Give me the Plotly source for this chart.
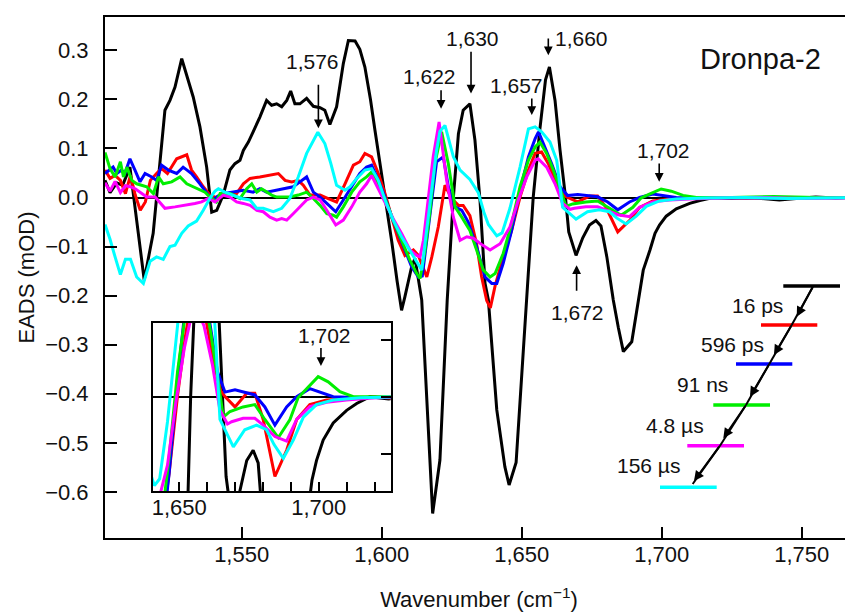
import plotly.graph_objects as go

# ---------------- data ----------------
black_x = [1501.2, 1503.0, 1505.4, 1507.5, 1510.1, 1515.2, 1518.4, 1522.6, 1524.4, 1526.2, 1528.6, 1530.9, 1532.7,
           1535.1, 1537.5, 1539.3, 1541.1, 1543.4, 1544.6, 1545.8, 1547.6, 1549.4, 1550.6, 1552.4, 1554.1, 1556.5,
           1558.9, 1560.7, 1562.5, 1564.3, 1566.1, 1567.5, 1569.0, 1570.8, 1573.2, 1575.6, 1578.0, 1579.7, 1581.5,
           1583.9, 1586.3, 1588.1, 1590.5, 1592.2, 1594.0, 1596.0, 1597.6, 1599.4, 1601.3, 1603.6, 1605.5, 1607.1,
           1608.3, 1610.7, 1611.9, 1614.3, 1618.2, 1620.8, 1623.4, 1625.6, 1627.4, 1629.1, 1631.5, 1633.3, 1635.1,
           1636.9, 1638.1, 1641.1, 1644.0, 1645.5, 1648.0, 1650.0, 1651.8, 1654.1, 1656.5, 1658.5, 1659.9, 1661.9,
           1663.7, 1665.5, 1666.8, 1669.4, 1671.8, 1674.2, 1676.5, 1678.3, 1680.4, 1682.7, 1684.5, 1686.3, 1689.3,
           1691.6, 1693.4, 1695.8, 1697.6, 1699.2, 1701.6, 1705.2, 1710.0, 1713.6, 1718.4, 1725.0, 1732.0, 1738.0,
           1742.0, 1748.0, 1755.0, 1762.0, 1768.3]
black_y = [0.035, 0.010, 0.030, 0.025, 0.062, -0.168, -0.073, 0.178, 0.198, 0.225, 0.283, 0.239, 0.205,
           0.144, 0.062, -0.030, -0.026, 0.005, 0.028, 0.056, 0.069, 0.076, 0.096, 0.113, 0.134, 0.164,
           0.198, 0.188, 0.191, 0.185, 0.198, 0.217, 0.191, 0.191, 0.202, 0.186, 0.183, 0.178, 0.149,
           0.185, 0.273, 0.320, 0.319, 0.302, 0.266, 0.200, 0.137, 0.070, 0.000, -0.090, -0.170, -0.230,
           -0.202, -0.141, -0.124, -0.209, -0.644, -0.535, -0.209, 0.000, 0.130, 0.178, 0.191, 0.117, -0.005,
           -0.175, -0.209, -0.433, -0.549, -0.586, -0.540, -0.370, -0.209, 0.000, 0.140, 0.240, 0.266, 0.198,
           0.096, 0.008, -0.070, -0.118, -0.082, -0.056, -0.047, -0.058, -0.121, -0.209, -0.265, -0.314, -0.294,
           -0.216, -0.148, -0.107, -0.073, -0.056, -0.038, -0.023, -0.012, -0.006, 0.000, -0.002, 0.000, -0.003,
           -0.005, -0.002, 0.001, -0.001, 0.000]

red_x = [1501.2, 1503.0, 1504.8, 1506.7, 1508.5, 1510.3, 1512.0, 1513.8, 1515.6, 1517.4, 1519.6, 1521.4, 1523.5,
         1525.6, 1526.8, 1530.4, 1532.1, 1533.9, 1536.3, 1538.7, 1541.0, 1543.4, 1548.2, 1550.6, 1553.0, 1556.5,
         1560.1, 1563.1, 1565.5, 1567.9, 1570.2, 1572.0, 1574.4, 1578.0, 1580.9, 1583.9, 1586.9, 1589.9, 1592.2,
         1594.0, 1596.4, 1598.8, 1601.2, 1603.6, 1605.9, 1608.3, 1611.3, 1613.1, 1616.1, 1617.9, 1620.2, 1622.6,
         1625.0, 1627.4, 1629.1, 1631.5, 1633.9, 1635.7, 1637.5, 1638.8, 1640.5, 1643.4, 1646.4, 1649.4, 1652.4,
         1654.8, 1657.1, 1659.5, 1661.9, 1664.9, 1666.4, 1670.0, 1674.2, 1677.1, 1680.1, 1684.3, 1688.5, 1692.1,
         1696.8, 1702.8, 1710.0, 1720.0, 1730.0, 1740.0, 1750.0, 1760.0, 1768.3]
red_y = [0.056, 0.039, 0.045, 0.035, 0.008, 0.045, 0.005, -0.026, -0.009, 0.035, 0.049, 0.059, 0.049,
         0.069, 0.079, 0.087, 0.056, 0.042, 0.022, 0.005, 0.000, 0.005, 0.008, 0.028, 0.039, 0.042,
         0.045, 0.049, 0.035, 0.032, 0.035, 0.025, 0.005, 0.005, -0.002, -0.009, 0.028, 0.066, 0.073,
         0.090, 0.083, 0.049, 0.008, -0.040, -0.087, -0.118, -0.107, -0.118, -0.162, -0.121, -0.060, 0.025,
         -0.002, -0.016, -0.016, -0.037, -0.095, -0.162, -0.210, -0.225, -0.180, -0.121, -0.067, 0.001, 0.056,
         0.090, 0.093, 0.069, 0.035, 0.005, 0.000, -0.009, 0.003, 0.003, -0.020, -0.070, -0.047, -0.020,
         -0.007, -0.003, -0.002, 0.000, -0.002, 0.000, -0.001, 0.000, 0.000]

blue_x = [1501.2, 1502.5, 1504.1, 1505.4, 1507.1, 1508.3, 1510.1, 1511.9, 1513.7, 1515.5, 1517.9, 1519.6, 1521.4,
          1523.8, 1526.8, 1529.1, 1532.1, 1535.1, 1538.1, 1539.9, 1541.5, 1543.4, 1547.0, 1550.6, 1554.1, 1556.5,
          1558.9, 1562.5, 1566.1, 1568.4, 1570.8, 1573.2, 1575.6, 1578.0, 1580.4, 1583.6, 1586.3, 1589.3, 1592.2,
          1594.6, 1596.4, 1598.8, 1601.2, 1603.6, 1605.9, 1608.3, 1610.7, 1613.1, 1614.5, 1616.1, 1617.9, 1619.6,
          1622.0, 1623.8, 1626.2, 1628.6, 1630.9, 1633.9, 1636.9, 1639.3, 1641.1, 1643.4, 1646.4, 1649.4, 1652.4,
          1654.8, 1656.0, 1658.3, 1660.7, 1663.7, 1666.4, 1670.0, 1673.5, 1677.1, 1680.7, 1684.3, 1688.5, 1692.1,
          1696.8, 1701.0, 1705.2, 1715.0, 1730.0, 1745.0, 1768.3]
blue_y = [0.049, 0.055, 0.062, 0.049, 0.056, 0.049, 0.079, 0.056, 0.032, 0.049, 0.042, 0.035, 0.066,
          0.056, 0.049, 0.062, 0.049, 0.028, 0.005, -0.005, 0.003, 0.008, 0.011, 0.015, 0.011, 0.018,
          0.011, 0.015, 0.018, 0.022, 0.032, 0.042, 0.011, 0.001, -0.012, -0.029, -0.005, 0.022, 0.049,
          0.062, 0.066, 0.035, 0.001, -0.040, -0.073, -0.107, -0.141, -0.162, -0.160, -0.087, 0.001, 0.073,
          0.083, 0.022, -0.019, -0.026, -0.050, -0.100, -0.162, -0.175, -0.175, -0.134, -0.067, 0.015, 0.083,
          0.120, 0.134, 0.103, 0.069, 0.022, 0.004, 0.006, 0.004, 0.0015, -0.009, -0.025, -0.009, 0.000,
          0.007, 0.0035, 0.000, -0.001, 0.000, -0.001, 0.000]

green_x = [1501.2, 1503.0, 1504.8, 1506.7, 1507.8, 1509.0, 1510.8, 1512.5, 1516.1, 1518.5, 1520.3, 1522.0, 1525.0,
           1528.0, 1530.4, 1533.9, 1536.9, 1538.7, 1541.0, 1542.3, 1546.0, 1549.4, 1551.8, 1553.6, 1555.4, 1557.1,
           1558.9, 1560.7, 1562.5, 1567.2, 1570.2, 1573.2, 1575.6, 1578.0, 1580.4, 1582.7, 1583.9, 1586.3, 1589.3,
           1592.2, 1594.6, 1596.4, 1598.8, 1601.2, 1604.1, 1607.1, 1610.1, 1612.5, 1613.7, 1615.5, 1617.3, 1619.0,
           1621.4, 1623.8, 1626.2, 1628.6, 1631.5, 1633.9, 1636.3, 1638.7, 1640.5, 1643.4, 1646.4, 1649.4, 1652.4,
           1654.8, 1656.5, 1658.9, 1661.3, 1664.3, 1665.8, 1668.2, 1672.9, 1677.1, 1680.7, 1685.5, 1689.7, 1692.6,
           1695.6, 1699.8, 1703.4, 1707.6, 1712.4, 1725.0, 1740.0, 1755.0, 1768.3]
green_y = [0.092, 0.059, 0.042, 0.073, 0.042, 0.062, 0.035, 0.028, 0.022, 0.008, 0.042, 0.028, 0.032,
           0.042, 0.028, 0.018, 0.011, 0.001, -0.009, 0.008, 0.008, -0.002, 0.018, 0.028, 0.011, 0.018,
           0.011, 0.005, 0.001, 0.001, 0.005, 0.011, -0.002, -0.016, -0.033, -0.036, -0.040, -0.019, 0.011,
           0.032, 0.042, 0.052, 0.025, -0.002, -0.046, -0.087, -0.128, -0.155, -0.165, -0.107, -0.026, 0.069,
           0.134, 0.069, -0.019, -0.040, -0.067, -0.107, -0.148, -0.162, -0.155, -0.114, -0.053, 0.022, 0.076,
           0.103, 0.113, 0.090, 0.056, 0.008, -0.018, -0.013, -0.009, -0.007, -0.020, -0.036, -0.020, -0.001,
           0.007, 0.0175, 0.013, 0.0044, 0.000, 0.000, 0.002, 0.000, 0.000]

magenta_x = [1501.2, 1503.0, 1504.8, 1506.7, 1508.5, 1510.3, 1512.0, 1513.8, 1516.1, 1519.1, 1522.6, 1526.2, 1529.8,
             1533.3, 1535.7, 1538.1, 1540.5, 1543.4, 1545.8, 1548.2, 1550.6, 1553.0, 1555.4, 1557.7, 1560.1, 1562.5,
             1564.3, 1566.1, 1568.4, 1570.8, 1573.2, 1575.6, 1578.0, 1580.4, 1583.6, 1586.3, 1589.3, 1592.2, 1594.6,
             1596.4, 1598.8, 1601.2, 1604.1, 1607.1, 1610.1, 1612.5, 1613.7, 1614.9, 1616.7, 1618.4, 1620.5, 1623.2,
             1625.6, 1628.0, 1630.4, 1632.7, 1635.5, 1638.7, 1642.3, 1645.8, 1648.8, 1651.8, 1654.8, 1655.9, 1658.9,
             1661.9, 1664.6, 1667.3, 1668.8, 1672.9, 1677.1, 1680.1, 1684.3, 1688.5, 1692.1, 1696.8, 1702.8, 1710.0,
             1720.0, 1735.0, 1750.0, 1768.3]
magenta_y = [0.030, 0.013, 0.033, 0.010, 0.024, 0.022, 0.018, 0.011, 0.001, 0.001, -0.022, -0.019, -0.016,
             -0.012, -0.009, -0.002, -0.009, 0.005, 0.001, -0.009, -0.012, -0.016, -0.026, -0.029, -0.040, -0.046,
             -0.043, -0.046, -0.033, -0.019, -0.005, 0.001, -0.005, -0.026, -0.056, -0.046, -0.019, 0.011, 0.028,
             0.045, 0.018, -0.009, -0.043, -0.073, -0.107, -0.118, -0.121, -0.087, 0.001, 0.083, 0.154, 0.035,
             -0.040, -0.087, -0.080, -0.083, -0.095, -0.107, -0.094, -0.060, -0.005, 0.042, 0.076, 0.079, 0.062,
             0.028, -0.012, -0.024, -0.022, -0.019, -0.019, -0.025, -0.035, -0.039, -0.020, -0.0088, -0.005, -0.003,
             -0.001, 0.000, -0.002, -0.001]

cyan_x = [1501.2, 1503.0, 1504.8, 1506.7, 1508.5, 1510.3, 1512.5, 1514.9, 1517.3, 1519.6, 1522.0, 1524.4, 1526.2,
          1528.6, 1530.9, 1533.9, 1536.3, 1538.7, 1540.5, 1541.7, 1544.0, 1547.0, 1550.0, 1553.0, 1555.4, 1557.7,
          1561.3, 1564.3, 1567.2, 1570.2, 1573.2, 1577.2, 1579.7, 1581.8, 1583.9, 1586.9, 1588.7, 1591.1, 1594.0,
          1596.4, 1598.8, 1601.2, 1604.1, 1607.1, 1610.1, 1612.5, 1614.3, 1616.1, 1617.9, 1619.6, 1620.8, 1622.6,
          1625.6, 1628.0, 1631.5, 1634.5, 1636.5, 1638.1, 1641.1, 1643.0, 1645.8, 1649.4, 1652.4, 1654.8, 1657.1,
          1660.1, 1662.5, 1664.6, 1669.4, 1673.5, 1677.7, 1681.3, 1684.0, 1687.3, 1690.9, 1694.5, 1699.2, 1705.2,
          1715.0, 1730.0, 1745.0, 1768.3]
cyan_y = [-0.055, -0.085, -0.121, -0.157, -0.126, -0.126, -0.162, -0.175, -0.130, -0.121, -0.126, -0.100, -0.097,
          -0.073, -0.058, -0.048, -0.026, -0.001, 0.013, 0.018, 0.011, 0.005, -0.002, -0.005, -0.022, -0.022,
          -0.029, -0.022, -0.002, 0.042, 0.090, 0.133, 0.110, 0.070, 0.025, 0.015, 0.022, 0.039, 0.056,
          0.059, 0.035, -0.005, -0.046, -0.080, -0.107, -0.131, -0.148, -0.067, 0.008, 0.096, 0.135, 0.147,
          0.083, 0.056, 0.037, 0.010, -0.030, -0.055, -0.078, -0.072, -0.022, 0.062, 0.140, 0.144, 0.134,
          0.113, 0.076, -0.020, -0.044, -0.029, -0.025, -0.029, -0.042, -0.054, -0.038, -0.018, -0.007, -0.003,
          -0.001, 0.000, -0.002, 0.000]

series_names = ["16 ps", "596 ps", "91 ns", "4.8 µs", "156 µs"]
series_colors = ["#000000", "#ff0000", "#0000ff", "#00ee00", "#ff00ff", "#00ffff"]

x_tick_vals = [1550, 1600, 1650, 1700, 1750]
x_tick_text = ["1,550", "1,600", "1,650", "1,700", "1,750"]
y_tick_vals = [0.3, 0.2, 0.1, 0.0, -0.1, -0.2, -0.3, -0.4, -0.5, -0.6]
y_tick_text = ["0.3", "0.2", "0.1", "0.0", "\u22120.1", "\u22120.2", "\u22120.3", "\u22120.4", "\u22120.5", "\u22120.6"]
inset_x_tick_vals = [1650, 1660, 1670, 1680, 1690, 1700, 1710, 1720]
inset_x_tick_text = ["1,650", "", "", "", "", "1,700", "", ""]
inset_y_tick_vals = [-0.05, 0.0, 0.05]

# peak annotations: (label, text x, text y, arrow x, arrow tail y, arrow head y)
peak_labels = [
    ("1,576", 1575.3, 0.278, 1577.4, 0.233, 0.141),
    ("1,622", 1617.1, 0.246, 1621.2, 0.222, 0.181),
    ("1,630", 1632.6, 0.324, 1631.9, 0.300, 0.212),
    ("1,657", 1648.1, 0.229, 1653.6, 0.205, 0.168),
    ("1,660", 1671.4, 0.324, 1659.5, 0.327, 0.290),
    ("1,672", 1669.9, -0.235, 1669.6, -0.193, -0.138),
    ("1,702", 1700.5, 0.096, 1699.1, 0.0725, 0.032),
]
inset_label = ("1,702", 1702.2, 0.0534, 1700.8, 0.0439, 0.0269)

# ---------------- figure ----------------
FONT = "Liberation Sans, Arial, Helvetica, sans-serif"
OFF = 8                       # page body margin of the html
W, H = 853 - OFF, 612 - OFF
ML, MR, MT, MB = 105 - OFF, 0, 17 - OFF, 612 - 538
PW, PH = W - ML - MR, H - MT - MB


def px(x):
    """screen x (px) -> paper x"""
    return (x - OFF - ML) / PW


def py(y):
    """screen y (px) -> paper y"""
    return (H - MB - (y - OFF)) / PH


all_x = [black_x, red_x, blue_x, green_x, magenta_x, cyan_x]
all_y = [black_y, red_y, blue_y, green_y, magenta_y, cyan_y]

fig = go.Figure()
for xs, ys, c in zip(all_x, all_y, series_colors):
    fig.add_trace(go.Scatter(x=xs, y=ys, mode="lines", line=dict(color=c, width=3),
                             showlegend=False, hoverinfo="skip"))
for xs, ys, c in zip(all_x, all_y, series_colors):
    fig.add_trace(go.Scatter(x=xs, y=ys, mode="lines", line=dict(color=c, width=3),
                             xaxis="x2", yaxis="y2", showlegend=False, hoverinfo="skip"))

axis_common = dict(showline=True, linecolor="black", linewidth=2, showgrid=False,
                   ticks="inside", tickcolor="black", tickwidth=2,
                   tickfont=dict(family=FONT, size=22, color="#111"))

fig.update_layout(
    width=W, height=H, margin=dict(l=ML, r=MR, t=MT, b=MB),
    paper_bgcolor="white", plot_bgcolor="rgba(0,0,0,0)",
    font=dict(family=FONT, size=22, color="#111"),
    xaxis=dict(range=[1501.2, 1768.3], domain=[0, 1], mirror=True, ticklen=11,
               tickvals=x_tick_vals, ticktext=x_tick_text, zeroline=False, ticklabelstandoff=-4,
               title=dict(text="Wavenumber (cm<sup>\u22121</sup>)", font=dict(size=22), standoff=26),
               **axis_common),
    yaxis=dict(range=[-0.694, 0.368], domain=[0, 1], mirror=False, ticklen=12,
               tickvals=y_tick_vals, ticktext=y_tick_text, ticklabelstandoff=10,
               zeroline=True, zerolinecolor="black", zerolinewidth=2,
               title=dict(text="EADS (mOD)", font=dict(size=22), standoff=4),
               **axis_common),
    xaxis2=dict(range=[1640.5, 1725.8], domain=[px(152.7), px(390.7)], anchor="y2", mirror=True,
                ticklen=9, tickvals=inset_x_tick_vals, ticktext=inset_x_tick_text, zeroline=False,
                ticklabelstandoff=-4, **axis_common),
    yaxis2=dict(range=[-0.0827, 0.065], domain=[py(491), py(322.5)], anchor="x2", mirror=True,
                side="right", ticklen=10, tickvals=inset_y_tick_vals, showticklabels=False,
                zeroline=True, zerolinecolor="black", zerolinewidth=2,
                **{k: v for k, v in axis_common.items() if k != "tickfont"}),
)

# white background behind inset
fig.add_shape(type="rect", xref="x2", yref="y2", x0=1640.5, x1=1725.8, y0=-0.0827, y1=0.065,
              fillcolor="white", line=dict(width=0), layer="below")

# peak labels and arrows
for lab, tx, ty, ax_, ay0, ay1 in peak_labels:
    fig.add_annotation(x=tx, y=ty, xref="x", yref="y", text=lab, showarrow=False,
                       xanchor="center", yanchor="middle",
                       font=dict(family=FONT, size=21, color="#111"))
    fig.add_annotation(x=ax_, y=ay1, ax=ax_, ay=ay0, xref="x", yref="y", axref="x", ayref="y",
                       text="", showarrow=True, arrowhead=2, arrowsize=1.1, arrowwidth=1.6,
                       arrowcolor="black", standoff=0, startstandoff=0)
lab, tx, ty, ax_, ay0, ay1 = inset_label
fig.add_annotation(x=tx, y=ty, xref="x2", yref="y2", text=lab, showarrow=False,
                   xanchor="center", yanchor="middle",
                   font=dict(family=FONT, size=21, color="#111"))
fig.add_annotation(x=ax_, y=ay1, ax=ax_, ay=ay0, xref="x2", yref="y2", axref="x2", ayref="y2",
                   text="", showarrow=True, arrowhead=2, arrowsize=1.1, arrowwidth=1.6,
                   arrowcolor="black", standoff=0, startstandoff=0)

# sample name
fig.add_annotation(x=px(760), y=py(59), xref="paper", yref="paper", text="Dronpa-2", showarrow=False,
                   xanchor="center", yanchor="middle",
                   font=dict(family=FONT, size=29, color="#111"))

# kinetic scheme (decorative legend)
bars = [(783.3, 840, 286), (761, 817.3, 325), (736, 792.3, 364), (713.3, 770, 405), (687.3, 744, 445.7),
        (660, 716.7, 487.3)]
for (x0, x1, yb), c in zip(bars, series_colors):
    fig.add_shape(type="line", xref="paper", yref="paper", x0=px(x0), x1=px(x1), y0=py(yb), y1=py(yb),
                  line=dict(color=c, width=3.5))
diag = [(813.3, 286), (791.7, 325), (769.3, 364), (746, 405), (720, 445.7), (692.7, 484)]
heads = [(796.7, 316.7), (774, 355), (750, 396.7), (723.3, 438.3), (694, 481)]
for i in range(5):
    (xa, ya), (xb, yb) = diag[i], diag[i + 1]
    fig.add_shape(type="line", xref="paper", yref="paper", x0=px(xa), y0=py(ya), x1=px(xb), y1=py(yb),
                  line=dict(color="black", width=2))
    hx, hy = heads[i]
    fig.add_annotation(x=px(hx), y=py(hy), xref="paper", yref="paper", ax=xa - hx, ay=ya - hy,
                       text="", showarrow=True, arrowhead=2, arrowsize=1, arrowwidth=2,
                       arrowcolor="black", standoff=0, startstandoff=0)
label_pos = [(785, 305), (765.7, 344.7), (730, 384.7), (705.7, 425), (681.7, 465)]
for name, (rx, cy) in zip(series_names, label_pos):
    fig.add_annotation(x=px(rx), y=py(cy), xref="paper", yref="paper", text=name, showarrow=False,
                       xanchor="right", yanchor="middle", font=dict(family=FONT, size=21, color="#111"))

fig.write_html("out.html", config={"displayModeBar": False})
